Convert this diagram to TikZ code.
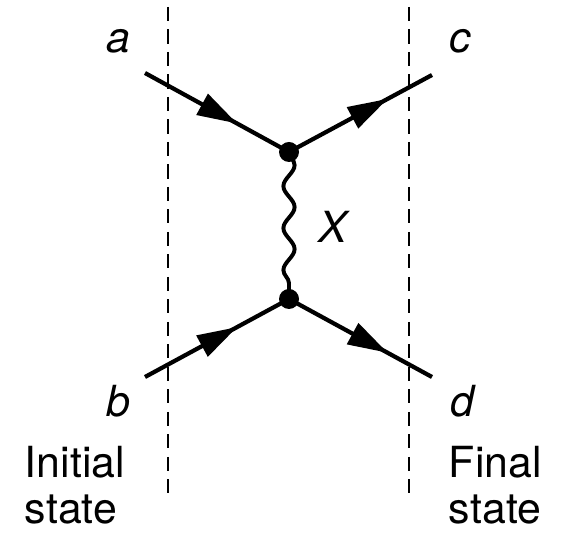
\documentclass[tikz,border=0pt]{standalone}
\usepackage{fontspec}
\setmainfont{TeX Gyre Heros}
\usepackage{tikz}
\usetikzlibrary{arrows.meta, positioning, decorations.pathmorphing, decorations.markings}

\begin{document}
\begin{tikzpicture}[
        font=\fontsize{30.5}{33}\selectfont,
        vertice/.style={circle, fill=black, inner sep=0pt, minimum size=0.5cm},
        fermion/.style={line width=3pt, decoration={markings,
            mark=at position #1 with {\arrow{Triangle[length=1cm,width=0.58cm]}}}, postaction={decorate}},
        boson/.style={line width=2.8pt, decorate,
            decoration={snake, amplitude=0.14cm, segment length=1.05cm}},
        frontera/.style={dashed, line width=1.3pt, dash pattern=on 10pt off 6pt},
        particula/.style={font=\fontsize{30.5}{33}\selectfont\itshape},
        estado/.style={align=left, anchor=west}
    ]
        \useasboundingbox (0,0) rectangle (14.175,13.375);

        % fronteras inicial / final
        \coordinate (fi1) at (4.2,13.2);
        \coordinate (fi2) at (4.2,1.0);
        \coordinate (ff1) at (10.225,13.2);
        \coordinate (ff2) at (10.225,1.0);
        \draw[frontera] (fi1) -- (fi2);
        \draw[frontera] (ff1) -- (ff2);

        % vertices
        \node[vertice] (v1) at (7.225,9.575) {};
        \node[vertice] (v2) at (7.225,5.9) {};

        % patas externas
        \coordinate (pa) at (3.625,11.55);
        \coordinate (pc) at (10.8,11.5);
        \coordinate (pb) at (3.625,3.95);
        \coordinate (pd) at (10.8,3.95);

        \draw[fermion=0.64] (pa) -- (v1.center);
        \draw[fermion=0.69] (v1.center) -- (pc);
        \draw[fermion=0.64] (pb) -- (v2.center);
        \draw[fermion=0.69] (v2.center) -- (pd);
        \draw[boson] (v1.center) -- (v2.center);

        % etiquetas
        \node[particula] (la) at (2.95,12.35) {a};
        \node[particula] (lc) at (11.5,12.35) {c};
        \node[particula] (lb) at (2.95,3.35) {b};
        \node[particula] (ld) at (11.55,3.35) {d};
        \node[particula] (lx) at (8.325,7.7) {X};

        \node[estado] (ini) at (0.5,1.25) {Initial\\state};
        \node[estado] (fin) at (11.1,1.25) {Final\\state};
    \end{tikzpicture}
\end{document}
